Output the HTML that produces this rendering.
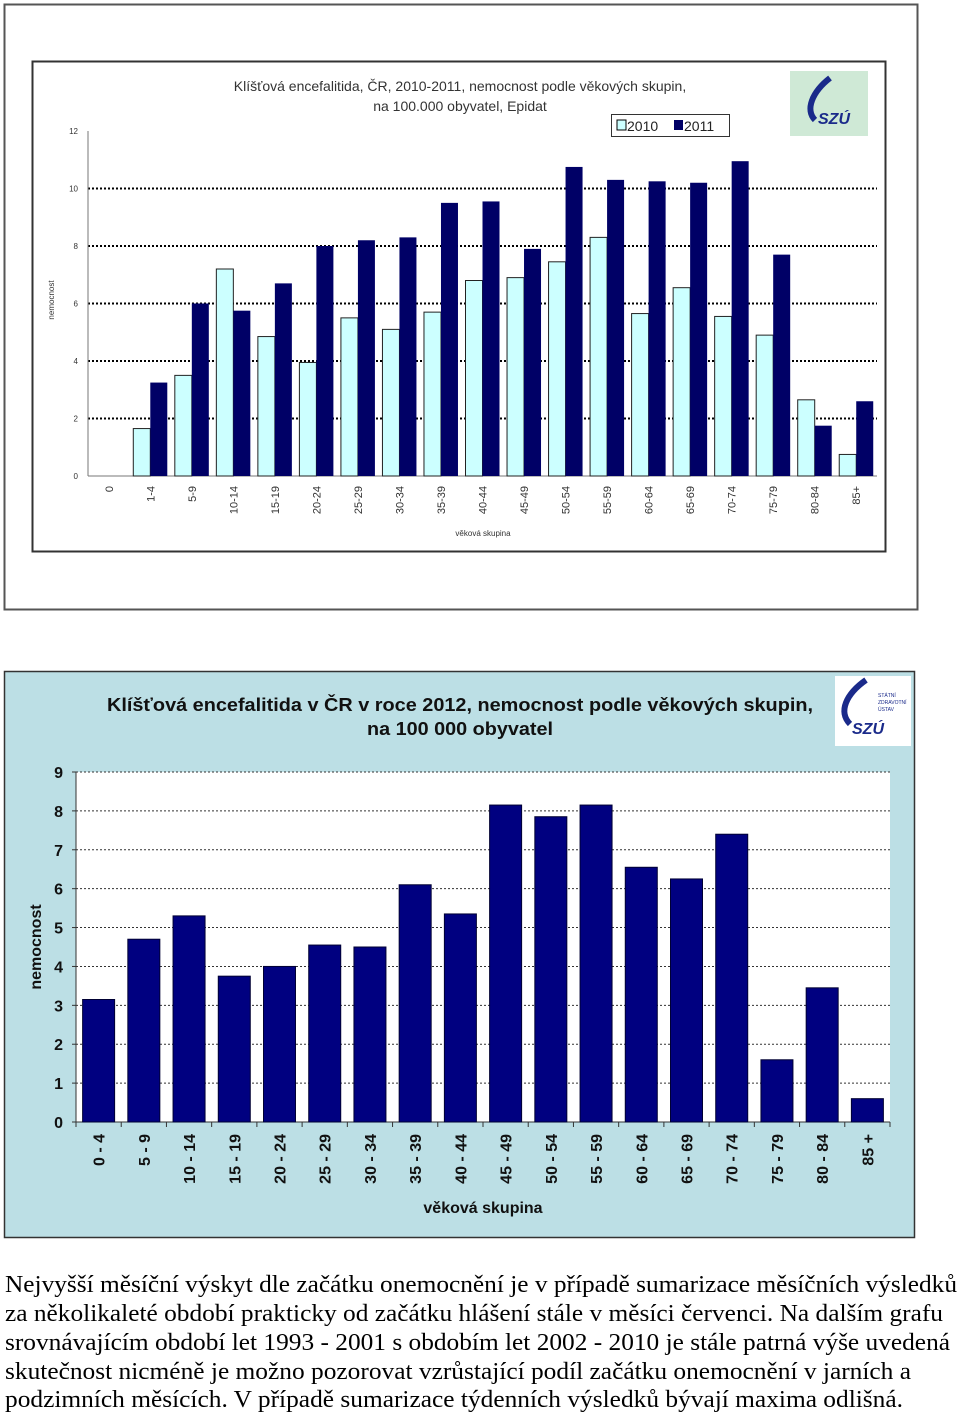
<!DOCTYPE html>
<html><head><meta charset="utf-8"><style>
html,body{margin:0;padding:0;background:#fff;width:960px;height:1415px;overflow:hidden}
svg{display:block}
</style></head><body>
<svg id="root" width="960" height="1415" xmlns="http://www.w3.org/2000/svg" font-family="Liberation Sans, sans-serif">
<rect x="4.5" y="4.5" width="913" height="605" fill="#fff" stroke="#555" stroke-width="2"/>
<rect x="32.5" y="61.5" width="853" height="490" fill="#fff" stroke="#333" stroke-width="2"/>
<text x="460" y="91" font-size="14" text-anchor="middle" fill="#333">Klíšťová encefalitida, ČR, 2010-2011, nemocnost podle věkových skupin,</text>
<text x="460" y="111" font-size="14" text-anchor="middle" fill="#333">na 100.000 obyvatel, Epidat</text>
<g>
<rect x="611.5" y="114.5" width="118" height="22" fill="#fff" stroke="#333"/>
<rect x="617" y="120" width="9" height="10" fill="#ccffff" stroke="#000"/>
<text x="627" y="131" font-size="14" fill="#222">2010</text>
<rect x="674" y="120" width="9" height="10" fill="#000066"/>
<text x="684" y="131" font-size="14" fill="#222">2011</text>
</g>
<g>
<rect x="790" y="71" width="78" height="65" fill="#cfe9d6"/>
<path d="M830 78 C812 92 805 110 815 120" stroke="#1a2a8a" stroke-width="6" fill="none"/>
<text x="818" y="124" font-size="16" font-weight="bold" font-style="italic" fill="#1a2a8a">SZÚ</text>
</g>
<g id="top-plot"></g>
<text transform="translate(54,300) rotate(-90)" font-size="8" fill="#333" text-anchor="middle">nemocnost</text>
<text x="483" y="536" font-size="8" fill="#333" text-anchor="middle">věková skupina</text>

<rect x="4.5" y="671.5" width="910" height="566" fill="#bcdfe5" stroke="#333" stroke-width="1.5"/>
<text x="460" y="711" font-size="18" font-weight="bold" text-anchor="middle" fill="#111" textLength="706" lengthAdjust="spacingAndGlyphs">Klíšťová encefalitida v ČR v roce 2012, nemocnost podle věkových skupin,</text>
<text x="460" y="735" font-size="18" font-weight="bold" text-anchor="middle" fill="#111" textLength="186" lengthAdjust="spacingAndGlyphs">na 100 000 obyvatel</text>
<g>
<rect x="835" y="676" width="76" height="70" fill="#fff"/>
<path d="M866 680 C846 694 838 712 850 724" stroke="#1a2a8a" stroke-width="6" fill="none"/>
<text x="852" y="734" font-size="16" font-weight="bold" font-style="italic" fill="#1a2a8a">SZÚ</text>
<text x="878" y="697" font-size="5" fill="#1a2a8a">STÁTNÍ</text>
<text x="878" y="704" font-size="5" fill="#1a2a8a">ZDRAVOTNÍ</text>
<text x="878" y="711" font-size="5" fill="#1a2a8a">ÚSTAV</text>
</g>
<g id="bot-plot"></g>
<text transform="translate(41,947) rotate(-90)" font-size="16" font-weight="bold" text-anchor="middle" fill="#111">nemocnost</text>
<text x="483" y="1213" font-size="16" font-weight="bold" text-anchor="middle" fill="#111">věková skupina</text>

<g font-family="Liberation Serif, serif" font-size="24" fill="#000">
<text x="5" y="1292" textLength="952" lengthAdjust="spacingAndGlyphs">Nejvyšší měsíční výskyt dle začátku onemocnění je v případě sumarizace měsíčních výsledků</text>
<text x="5" y="1321" textLength="938" lengthAdjust="spacingAndGlyphs">za několikaleté období prakticky od začátku hlášení stále v měsíci červenci. Na dalším grafu</text>
<text x="5" y="1350" textLength="945" lengthAdjust="spacingAndGlyphs">srovnávajícím období let 1993 - 2001 s obdobím let 2002 - 2010 je stále patrná výše uvedená</text>
<text x="5" y="1379" textLength="906" lengthAdjust="spacingAndGlyphs">skutečnost nicméně je možno pozorovat vzrůstající podíl začátku onemocnění v jarních a</text>
<text x="5" y="1407" textLength="898" lengthAdjust="spacingAndGlyphs">podzimních měsících. V případě sumarizace týdenních výsledků bývají maxima odlišná.</text>
</g>
</svg>
<script>
const NS="http://www.w3.org/2000/svg";
const topCats=["0","1-4","5-9","10-14","15-19","20-24","25-29","30-34","35-39","40-44","45-49","50-54","55-59","60-64","65-69","70-74","75-79","80-84","85+"];
const top2010=[0,1.65,3.5,7.2,4.85,3.95,5.5,5.1,5.7,6.8,6.9,7.45,8.3,5.65,6.55,5.55,4.9,2.65,0.75];
const top2011=[0,3.25,6.0,5.75,6.7,8.0,8.2,8.3,9.5,9.55,7.9,10.75,10.3,10.25,10.2,10.95,7.7,1.75,2.6];
const topTicks=[0,2,4,6,8,10,12];
const botCats=["0 - 4","5 - 9","10 - 14","15 - 19","20 - 24","25 - 29","30 - 34","35 - 39","40 - 44","45 - 49","50 - 54","55 - 59","60 - 64","65 - 69","70 - 74","75 - 79","80 - 84","85 +"];
const bot2012=[3.15,4.7,5.3,3.75,4.0,4.55,4.5,6.1,5.35,8.15,7.85,8.15,6.55,6.25,7.4,1.6,3.45,0.6];
const botTicks=[0,1,2,3,4,5,6,7,8,9];

function mk(tag,attrs,parent){const e=document.createElementNS(NS,tag);for(const k in attrs)e.setAttribute(k,attrs[k]);parent.appendChild(e);return e;}

(function(){
  const g=document.getElementById('top-plot');
  const L=88,R=877,T=131,B=476,max=12;
  const y=v=>B-(v/max)*(B-T);
  const bw=(R-L)/topCats.length;
  const x=i=>L+i*bw;
  topTicks.forEach(t=>{
    if(t>0&&t<12){const l=mk('line',{x1:L,x2:R,y1:y(t),y2:y(t),stroke:'#000','stroke-width':2,'stroke-dasharray':'2,2'},g);
    
    }
    const tx=mk('text',{x:L-10,y:y(t)+3,'font-size':8,'text-anchor':'end',fill:'#333'},g);tx.textContent=t;
    
    
  });
  mk('line',{x1:L,x2:L,y1:T,y2:B,stroke:'#777'},g);
  mk('line',{x1:L,x2:R,y1:B,y2:B,stroke:'#777'},g);
  topCats.forEach((c,i)=>{
    const w=17,cx=x(i)+bw/2;
    const a=mk('rect',{x:cx-w,y:y(top2010[i]),width:w,height:B-y(top2010[i]),fill:'#ccffff',stroke:'#222','stroke-width':1},g);
    
    
    const b=mk('rect',{x:cx,y:y(top2011[i]),width:w,height:B-y(top2011[i]),fill:'#000066'},g);
    
    
    const t=mk('text',{transform:`translate(${cx+4},${B+10}) rotate(-90)`,'font-size':11,'text-anchor':'end',fill:'#333'},g);t.textContent=c;
    
    
  });
})();

(function(){
  const g=document.getElementById('bot-plot');
  const L=76,R=890,T=772,B=1122,max=9;
  const y=v=>B-(v/max)*(B-T);
  const bw=(R-L)/botCats.length;
  const x=i=>L+i*bw;
  mk('rect',{x:L,y:T,width:R-L,height:B-T,fill:'#fff'},g);
  botTicks.forEach(t=>{
    if(t>0){const l=mk('line',{x1:L,x2:R,y1:y(t),y2:y(t),stroke:'#333','stroke-width':1,'stroke-dasharray':'2,2'},g);
    
    }
    const tx=mk('text',{x:L-13,y:y(t)+6,'font-size':16,'font-weight':'bold','text-anchor':'end',fill:'#111'},g);tx.textContent=t;
    
    
    mk('line',{x1:L-4,x2:L,y1:y(t),y2:y(t),stroke:'#333'},g);
  });
  mk('line',{x1:L,x2:L,y1:T,y2:B,stroke:'#333'},g);
  mk('line',{x1:L,x2:R,y1:B,y2:B,stroke:'#333'},g);
  botCats.forEach((c,i)=>{
    const w=32,cx=x(i)+bw/2;
    const b=mk('rect',{x:cx-w/2,y:y(bot2012[i]),width:w,height:B-y(bot2012[i]),fill:'#000080',stroke:'#000033','stroke-width':1},g);
    
    
    mk('line',{x1:x(i),x2:x(i),y1:B,y2:B+5,stroke:'#333'},g);
    const t=mk('text',{transform:`translate(${cx+6},${B+12}) rotate(-90)`,'font-size':16,'font-weight':'bold','text-anchor':'end',fill:'#111'},g);t.textContent=c;
    
    
  });
  mk('line',{x1:R,x2:R,y1:B,y2:B+5,stroke:'#333'},g);
})();
</script>
</body></html>
